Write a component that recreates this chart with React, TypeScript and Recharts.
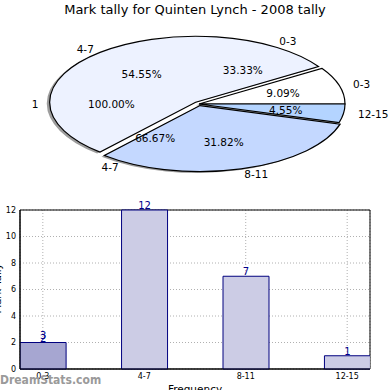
import {
  PieChart,
  Pie,
  BarChart,
  Bar,
  Cell,
  XAxis,
  YAxis,
  CartesianGrid,
  LabelList,
  ReferenceArea,
} from "recharts";

const categories = ["0-3", "4-7", "8-11", "12-15"];
const tally = [2, 12, 7, 1];
const subCategories = ["0-3", "4-7"];
const subTally = [1, 2];
const totalCategories = ["1"];
const totalTally = [1];
const extraBarLabels = ["3", "", "", ""];
const yTicks = [0, 2, 4, 6, 8, 10, 12];

const pieColors = ["#ffffff", "#edf2ff", "#c4d8ff", "#b4d4ff"];
const explode = [0, 0.035, 0.025, 0];
const barColors = ["#a6a6d1", "#cccce5", "#cccce5", "#cccce5"];

const mainData = categories.map((name, i) => ({ name, value: tally[i] }));
const subData = subCategories.map((name, i) => ({ name, value: subTally[i] }));
const totalData = totalCategories.map((name, i) => ({ name, value: totalTally[i] }));
const barData = categories.map((cat, i) => ({
  x: i,
  cat,
  value: tally[i],
  extra: extraBarLabels[i],
}));

const CX = 194;
const CY = 99;
const RX = 146;
const RY = 66;
const RAD = Math.PI / 180;

function wedgePath(cx: number, cy: number, a0: number, a1: number) {
  const x0 = cx + RX * Math.cos(a0 * RAD);
  const y0 = cy - RY * Math.sin(a0 * RAD);
  const x1 = cx + RX * Math.cos(a1 * RAD);
  const y1 = cy - RY * Math.sin(a1 * RAD);
  const large = Math.abs(a1 - a0) > 180 ? 1 : 0;
  return `M${cx},${cy} L${x0},${y0} A${RX},${RY} 0 ${large} 0 ${x1},${y1} Z`;
}

// elliptical wedges drawn through the label hook (Pie itself only draws circles)
const renderWedge = (shadow: boolean) => (p: any) => {
  const i = p.index;
  const mid = (p.startAngle + p.endAngle) / 2;
  const e = explode[i] ?? 0;
  let cx = (p.cx ?? CX) + RX * e * Math.cos(mid * RAD);
  let cy = (p.cy ?? CY) - RY * e * Math.sin(mid * RAD);
  if (shadow) {
    cx -= 0.02 * RX;
    cy += 0.02 * RY;
  }
  return (
    <path
      key={`w-${shadow}-${i}`}
      d={wedgePath(cx, cy, p.startAngle, p.endAngle)}
      fill={shadow ? "#4d4d4d" : pieColors[i]}
      fillOpacity={shadow ? 0.55 : 1}
      stroke={shadow ? "none" : "#000"}
      strokeWidth={1.2}
    />
  );
};

const renderText = (p: any) => {
  const mid = (p.startAngle + p.endAngle) / 2;
  const c = Math.cos(mid * RAD);
  const s = Math.sin(mid * RAD);
  const cx = p.cx ?? CX;
  const cy = p.cy ?? CY;
  return (
    <g key={`t-${p.index}`}>
      <text
        x={cx + 1.1 * RX * c}
        y={cy - 1.1 * RY * s}
        textAnchor={c > 0 ? "start" : "end"}
        dominantBaseline="central"
        fontSize={10.5}
        fill="#000"
      >
        {p.name}
      </text>
      <text
        x={cx + 0.6 * RX * c}
        y={cy - 0.6 * RY * s}
        textAnchor="middle"
        dominantBaseline="central"
        fontSize={10.5}
        fill="#000"
      >
        {(p.percent * 100).toFixed(2)}%
      </text>
    </g>
  );
};

export default function App() {
  return (
    <div
      style={{
        position: "absolute",
        left: 0,
        top: 0,
        width: 390,
        height: 390,
        background: "#fff",
        overflow: "hidden",
        fontFamily: "DejaVu Sans",
      }}
    >
      <div
        style={{
          position: "absolute",
          top: 2,
          left: 0,
          width: 390,
          textAlign: "center",
          fontSize: 13,
          color: "#000",
        }}
      >
        Mark tally for Quinten Lynch - 2008 tally
      </div>

      <div style={{ position: "absolute", left: 0, top: 0 }}>
        <PieChart width={390} height={190}>
          <Pie
            data={mainData}
            dataKey="value"
            nameKey="name"
            cx={CX}
            cy={CY}
            outerRadius={RX}
            fill="transparent"
            stroke="none"
            labelLine={false}
            label={renderWedge(true)}
            isAnimationActive={false}
          />
          <Pie
            data={mainData}
            dataKey="value"
            nameKey="name"
            cx={CX}
            cy={CY}
            outerRadius={RX}
            fill="transparent"
            stroke="none"
            labelLine={false}
            label={renderWedge(false)}
            isAnimationActive={false}
          />
          <Pie
            data={mainData}
            dataKey="value"
            nameKey="name"
            cx={CX}
            cy={CY}
            outerRadius={RX}
            fill="transparent"
            stroke="none"
            labelLine={false}
            label={renderText}
            isAnimationActive={false}
          />
          <Pie
            data={subData}
            dataKey="value"
            nameKey="name"
            cx={CX}
            cy={CY}
            outerRadius={RX}
            fill="transparent"
            stroke="none"
            labelLine={false}
            label={renderText}
            isAnimationActive={false}
          />
          <Pie
            data={totalData}
            dataKey="value"
            nameKey="name"
            cx={CX}
            cy={CY}
            outerRadius={RX}
            fill="transparent"
            stroke="none"
            labelLine={false}
            label={renderText}
            isAnimationActive={false}
          />
        </PieChart>
      </div>

      <div style={{ position: "absolute", left: 0, top: 190 }}>
        <BarChart
          width={390}
          height={200}
          data={barData}
          margin={{ top: 20, right: 20, bottom: 0, left: 0 }}
        >
          <CartesianGrid stroke="#b0b0b0" strokeDasharray="1 2" />
          <XAxis
            dataKey="x"
            type="number"
            domain={[-0.225, 3.225]}
            ticks={[0, 1, 2, 3]}
            tickFormatter={(v: number) => categories[v] ?? ""}
            height={21}
            tick={{ fill: "#000", fontSize: 8 }}
            tickLine={false}
            tickSize={3}
            tickMargin={1}
            axisLine={{ stroke: "#000" }}
            allowDataOverflow
          />
          <YAxis
            domain={[0, 12]}
            ticks={yTicks}
            width={20}
            tick={{ fill: "#000", fontSize: 8 }}
            tickLine={false}
            tickSize={3}
            tickMargin={1}
            axisLine={{ stroke: "#000" }}
          />
          <Bar dataKey="value" barSize={46} stroke="#00007f" isAnimationActive={false}>
            {barData.map((d, i) => (
              <Cell key={d.cat} fill={barColors[i]} />
            ))}
            <LabelList dataKey="extra" position="top" offset={4} fill="#00008b" fontSize={10} />
            <LabelList dataKey="value" position="top" offset={1} fill="#00008b" fontSize={10} />
          </Bar>
          <ReferenceArea
            x1={-0.225}
            x2={3.225}
            y1={0}
            y2={12}
            fill="none"
            stroke="#000"
            strokeOpacity={1}
            ifOverflow="visible"
          />
        </BarChart>
      </div>

      <div
        style={{
          position: "absolute",
          left: 0,
          top: 373,
          fontFamily: "DejaVu Sans Condensed, DejaVu Sans",
          fontWeight: "bold",
          fontSize: 12,
          color: "#9a9a9a",
        }}
      >
        DreamStats.com
      </div>
      <div
        style={{
          position: "absolute",
          left: 140,
          width: 110,
          top: 383,
          textAlign: "center",
          fontSize: 10.5,
          color: "#000",
        }}
      >
        Frequency
      </div>
      <div
        style={{
          position: "absolute",
          left: -33,
          width: 60,
          top: 283,
          textAlign: "center",
          fontSize: 10,
          color: "#000",
          transform: "rotate(-90deg)",
        }}
      >
        Mark Tally
      </div>
    </div>
  );
}
